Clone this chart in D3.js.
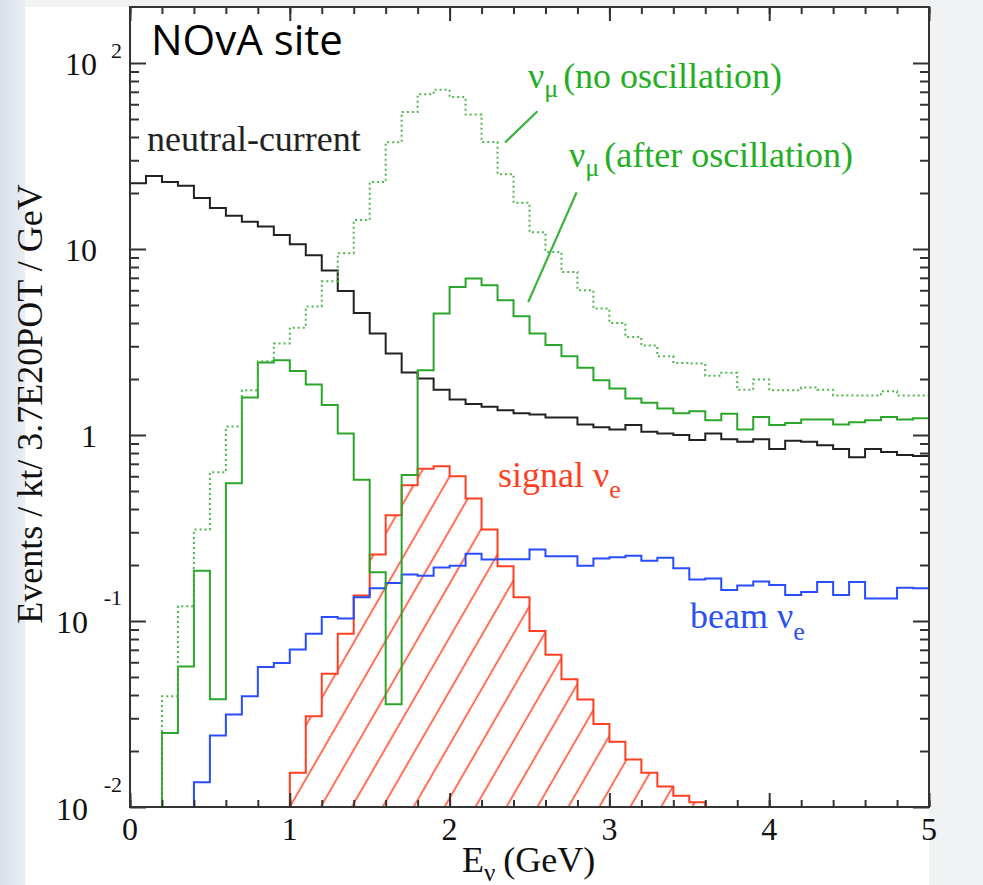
<!DOCTYPE html>
<html>
<head>
<meta charset="utf-8">
<script src="https://d3js.org/d3.v7.min.js"></script>
<style>
  body { margin: 0; background: #f1f2f4; }
  svg { display: block; }
</style>
</head>
<body>
<div id="chart"></div>
<script>
// 50 bins of 0.1 GeV, 0 - 5 GeV; null = empty bin
var binWidth = 0.1;
var nBins = 50;

var neutralCurrent = [22.6, 24.7, 22.9, 21.9, 18.8, 16.6, 15.1, 14.0, 13.2, 11.9,
    10.6, 9.25, 7.67, 5.94, 4.53, 3.51, 2.74, 2.17, 2.01, 1.75,
    1.55, 1.47, 1.42, 1.36, 1.31, 1.29, 1.24, 1.24, 1.14, 1.10,
    1.07, 1.13, 1.04, 1.02, 1.00, 0.94, 1.02, 0.95, 0.92, 0.95,
    0.84, 0.93, 0.92, 0.88, 0.84, 0.76, 0.84, 0.81, 0.78, 0.77];

var numuNoOsc = [null, null, 0.0394, 0.12, 0.31, 0.63, 1.11, 1.74, 2.49, 3.10,
    3.77, 4.9, 6.7, 9.5, 14.3, 22.9, 37.5, 54.6, 67.9, 71.9,
    65.6, 52.8, 37.6, 25.2, 17.7, 12.3, 9.64, 7.52, 6.0, 4.78,
    4.0, 3.36, 3.03, 2.65, 2.44, 2.42, 2.08, 2.16, 1.75, 1.99,
    1.74, 1.74, 1.80, 1.75, 1.63, 1.63, 1.63, 1.72, 1.63, 1.63];

var numuOsc = [null, null, 0.025, 0.057, 0.186, 0.038, 0.55, 1.59, 2.45, 2.52,
    2.21, 1.87, 1.45, 1.02, 0.575, 0.183, 0.0357, 0.61, 2.23, 4.50,
    6.25, 6.93, 6.38, 5.30, 4.35, 3.51, 3.05, 2.65, 2.30, 1.97,
    1.78, 1.57, 1.49, 1.39, 1.31, 1.34, 1.20, 1.30, 1.07, 1.25,
    1.13, 1.16, 1.21, 1.21, 1.14, 1.17, 1.20, 1.25, 1.21, 1.23];

var signalNue = [null, null, null, null, null, null, null, null, null, null,
    0.0153, 0.0308, 0.0521, 0.0855, 0.137, 0.228, 0.370, 0.537, 0.659, 0.680,
    0.600, 0.455, 0.310, 0.197, 0.134, 0.0883, 0.0659, 0.0486, 0.0378, 0.0279,
    0.0224, 0.0180, 0.0153, 0.0129, 0.0115, 0.0106, null, null, null, null,
    null, null, null, null, null, null, null, null, null, null];

var beamNue = [null, null, null, null, 0.0136, 0.0242, 0.0314, 0.0394, 0.0566, 0.0594,
    0.0702, 0.0855, 0.105, 0.103, 0.134, 0.150, 0.160, 0.178, 0.175, 0.194,
    0.198, 0.230, 0.214, 0.215, 0.215, 0.242, 0.223, 0.223, 0.198, 0.217,
    0.220, 0.224, 0.211, 0.219, 0.192, 0.167, 0.169, 0.147, 0.155, 0.163,
    0.156, 0.138, 0.143, 0.162, 0.138, 0.162, 0.132, 0.132, 0.151, 0.150];

var xTicks = [0, 1, 2, 3, 4, 5];
var yTicks = [0.01, 0.1, 1, 10, 100];
var yTickBase = ["10", "10", "1", "10", "10"];
var yTickExp = ["-2", "-1", "", "", "2"];

// leader lines of the numu labels, in data units
var noOscLeader = [[2.55, 55], [2.347, 37.4]];
var oscLeader = [[2.795, 20.2], [2.492, 5.19]];

var W = 983, H = 885;
var pLeft = 130, pRight = 929, pTop = 7, pBottom = 807;

var svg = d3.select("#chart").append("svg")
    .attr("width", W)
    .attr("height", H);

// slide background around the pasted plot
var defs = svg.append("defs");
var grad = defs.append("linearGradient").attr("id", "side");
grad.append("stop").attr("offset", "0%").attr("stop-color", "#d6dee8");
grad.append("stop").attr("offset", "100%").attr("stop-color", "#eaeef3");
svg.append("rect").attr("width", W).attr("height", H).attr("fill", "#f1f2f4");
svg.append("rect").attr("x", 0).attr("y", 0).attr("width", 25).attr("height", H).attr("fill", "url(#side)");
svg.append("rect").attr("x", 25).attr("y", pTop).attr("width", pRight - 25).attr("height", H - pTop).attr("fill", "#fff");

var x = d3.scaleLinear().domain([0, 5]).range([pLeft, pRight]);
var y = d3.scaleLog().domain([0.01, 200]).range([pBottom, pTop]).clamp(true);
var yMin = y.domain()[0];

function stepPoints(vals) {
    var pts = [];
    var on = false;
    vals.forEach(function(v, i) {
        var x0 = i * binWidth, x1 = (i + 1) * binWidth;
        if (v == null) {
            if (on) { pts.push([x0, yMin]); on = false; }
            return;
        }
        if (!on && i > 0) pts.push([x0, yMin]);
        pts.push([x0, v]);
        pts.push([x1, v]);
        on = true;
    });
    return pts;
}

var line = d3.line()
    .x(function(d) { return x(d[0]); })
    .y(function(d) { return y(d[1]); });

// hatch pattern for signal nue, lines at 60 deg
var spacing = 26.8;
var ang = 30 * Math.PI / 180;
var phase = ((x(1) * Math.cos(ang) + y(yMin) * Math.sin(ang)) % spacing + spacing) % spacing;
var pat = defs.append("pattern")
    .attr("id", "hatch")
    .attr("patternUnits", "userSpaceOnUse")
    .attr("width", spacing)
    .attr("height", spacing)
    .attr("patternTransform", "rotate(30)");
[phase - spacing, phase, phase + spacing].forEach(function(p) {
    pat.append("line")
        .attr("x1", p).attr("x2", p)
        .attr("y1", -1).attr("y2", spacing + 1)
        .attr("stroke", "#ff4a2c")
        .attr("stroke-width", 1.6);
});

var plot = svg.append("g");

var redPts = stepPoints(signalNue);
plot.append("path")
    .attr("d", line(redPts) + "Z")
    .attr("fill", "url(#hatch)")
    .attr("stroke", "none");
plot.append("path")
    .attr("d", line(redPts))
    .attr("fill", "none")
    .attr("stroke", "#ff3f22")
    .attr("stroke-width", 2);

plot.append("path")
    .attr("d", line(stepPoints(beamNue)))
    .attr("fill", "none")
    .attr("stroke", "#2a4cff")
    .attr("stroke-width", 2);

plot.append("path")
    .attr("d", line(stepPoints(neutralCurrent)))
    .attr("fill", "none")
    .attr("stroke", "#222")
    .attr("stroke-width", 2);

plot.append("path")
    .attr("d", line(stepPoints(numuOsc)))
    .attr("fill", "none")
    .attr("stroke", "#2aa62a")
    .attr("stroke-width", 2);

plot.append("path")
    .attr("d", line(stepPoints(numuNoOsc)))
    .attr("fill", "none")
    .attr("stroke", "#4cb94c")
    .attr("stroke-width", 2)
    .attr("stroke-dasharray", "2,3");

// axes: ticks on all four sides, pointing inwards
var yMinor = [];
for (var d = -2; d <= 2; d++) {
    for (var k = 2; k <= 9; k++) {
        var v = k * Math.pow(10, d);
        if (v < 200) yMinor.push(v);
    }
}
var xMinor = d3.range(0, 5.01, 0.2);

function styleAxis(g) {
    g.select(".domain").remove();
    g.selectAll("line").attr("stroke", "#333").attr("stroke-width", 2);
    g.selectAll("text").remove();
}

svg.append("g").attr("transform", "translate(" + pLeft + ",0)")
    .call(d3.axisRight(y).tickValues(yTicks).tickSize(16)).call(styleAxis);
svg.append("g").attr("transform", "translate(" + pLeft + ",0)")
    .call(d3.axisRight(y).tickValues(yMinor).tickSize(9)).call(styleAxis);
svg.append("g").attr("transform", "translate(" + pRight + ",0)")
    .call(d3.axisLeft(y).tickValues(yTicks).tickSize(16)).call(styleAxis);
svg.append("g").attr("transform", "translate(" + pRight + ",0)")
    .call(d3.axisLeft(y).tickValues(yMinor).tickSize(9)).call(styleAxis);
svg.append("g").attr("transform", "translate(0," + pBottom + ")")
    .call(d3.axisTop(x).tickValues(xTicks).tickSize(14)).call(styleAxis);
svg.append("g").attr("transform", "translate(0," + pBottom + ")")
    .call(d3.axisTop(x).tickValues(xMinor).tickSize(7)).call(styleAxis);
svg.append("g").attr("transform", "translate(0," + pTop + ")")
    .call(d3.axisBottom(x).tickValues(xTicks).tickSize(14)).call(styleAxis);
svg.append("g").attr("transform", "translate(0," + pTop + ")")
    .call(d3.axisBottom(x).tickValues(xMinor).tickSize(7)).call(styleAxis);

svg.append("rect")
    .attr("x", pLeft).attr("y", pTop)
    .attr("width", pRight - pLeft).attr("height", pBottom - pTop)
    .attr("fill", "none")
    .attr("stroke", "#333")
    .attr("stroke-width", 2);

var serif = "'Liberation Serif', 'Times New Roman', serif";

// x tick labels
svg.selectAll(".xlab")
    .data(xTicks).enter()
    .append("text")
    .attr("x", function(d) { return x(d); })
    .attr("y", pBottom + 33)
    .attr("text-anchor", "middle")
    .style("font-family", serif)
    .style("font-size", "32px")
    .attr("fill", "#111")
    .text(function(d) { return d; });

// y tick labels with superscript exponents
yTicks.forEach(function(t, i) {
    var exp = yTickExp[i];
    var neg = exp.charAt(0) == "-";
    var base = y(t) + 12.5;
    if (exp) {
        svg.append("text")
            .attr("x", 122)
            .attr("y", base - (neg ? 28 : 17))
            .attr("text-anchor", "end")
            .style("font-family", serif)
            .style("font-size", "22px")
            .attr("fill", "#111")
            .text(exp);
    }
    svg.append("text")
        .attr("x", exp ? (neg ? 88 : 97) : 97)
        .attr("y", base)
        .attr("text-anchor", "end")
        .style("font-family", serif)
        .style("font-size", "32px")
        .attr("fill", "#111")
        .text(yTickBase[i]);
});

// axis titles
var xt = svg.append("text")
    .attr("x", 462)
    .attr("y", 872)
    .style("font-family", serif)
    .style("font-size", "36px")
    .attr("fill", "#111");
xt.append("tspan").text("E");
xt.append("tspan").attr("dy", 9).style("font-size", "25px").text("ν");
xt.append("tspan").attr("dy", -9).attr("dx", 8).text("(GeV)");

svg.append("text")
    .attr("transform", "translate(42,404) rotate(-90)")
    .attr("text-anchor", "middle")
    .style("font-family", serif)
    .style("font-size", "36px")
    .attr("fill", "#111")
    .text("Events / kt/ 3.7E20POT / GeV");

// curve labels
svg.append("text")
    .attr("x", x(0.106))
    .attr("y", y(33.6))
    .style("font-family", serif)
    .style("font-size", "36px")
    .attr("fill", "#222")
    .text("neutral-current");

function subLabel(px, py, main, sub, rest, color, dy) {
    var t = svg.append("text")
        .attr("x", px)
        .attr("y", py)
        .style("font-family", serif)
        .style("font-size", "36px")
        .attr("fill", color);
    t.append("tspan").text(main);
    t.append("tspan").attr("dy", dy).style("font-size", "26px").text(sub);
    if (rest) t.append("tspan").attr("dy", -dy).attr("dx", 5).text(rest);
    return t;
}

subLabel(x(2.49), y(73.8), "ν", "μ", "(no oscillation)", "#24ae24", 9);
subLabel(x(2.747), y(27.6), "ν", "μ", "(after oscillation)", "#24ae24", 9);
subLabel(x(2.303), y(0.525), "signal ν", "e", null, "#ff3f22", 11);
subLabel(x(3.504), y(0.0914), "beam ν", "e", null, "#2a52f0", 12);

[noOscLeader, oscLeader].forEach(function(l) {
    svg.append("path")
        .attr("d", line(l))
        .attr("stroke", "#3cb43c")
        .attr("stroke-width", 2.2)
        .attr("fill", "none");
});

svg.append("text")
    .attr("x", x(0.131))
    .attr("y", y(110))
    .style("font-family", "'Open Sans', 'Noto Sans', sans-serif")
    .style("font-size", "42px")
    .attr("fill", "#000")
    .text("NOvA site");
</script>
</body>
</html>
